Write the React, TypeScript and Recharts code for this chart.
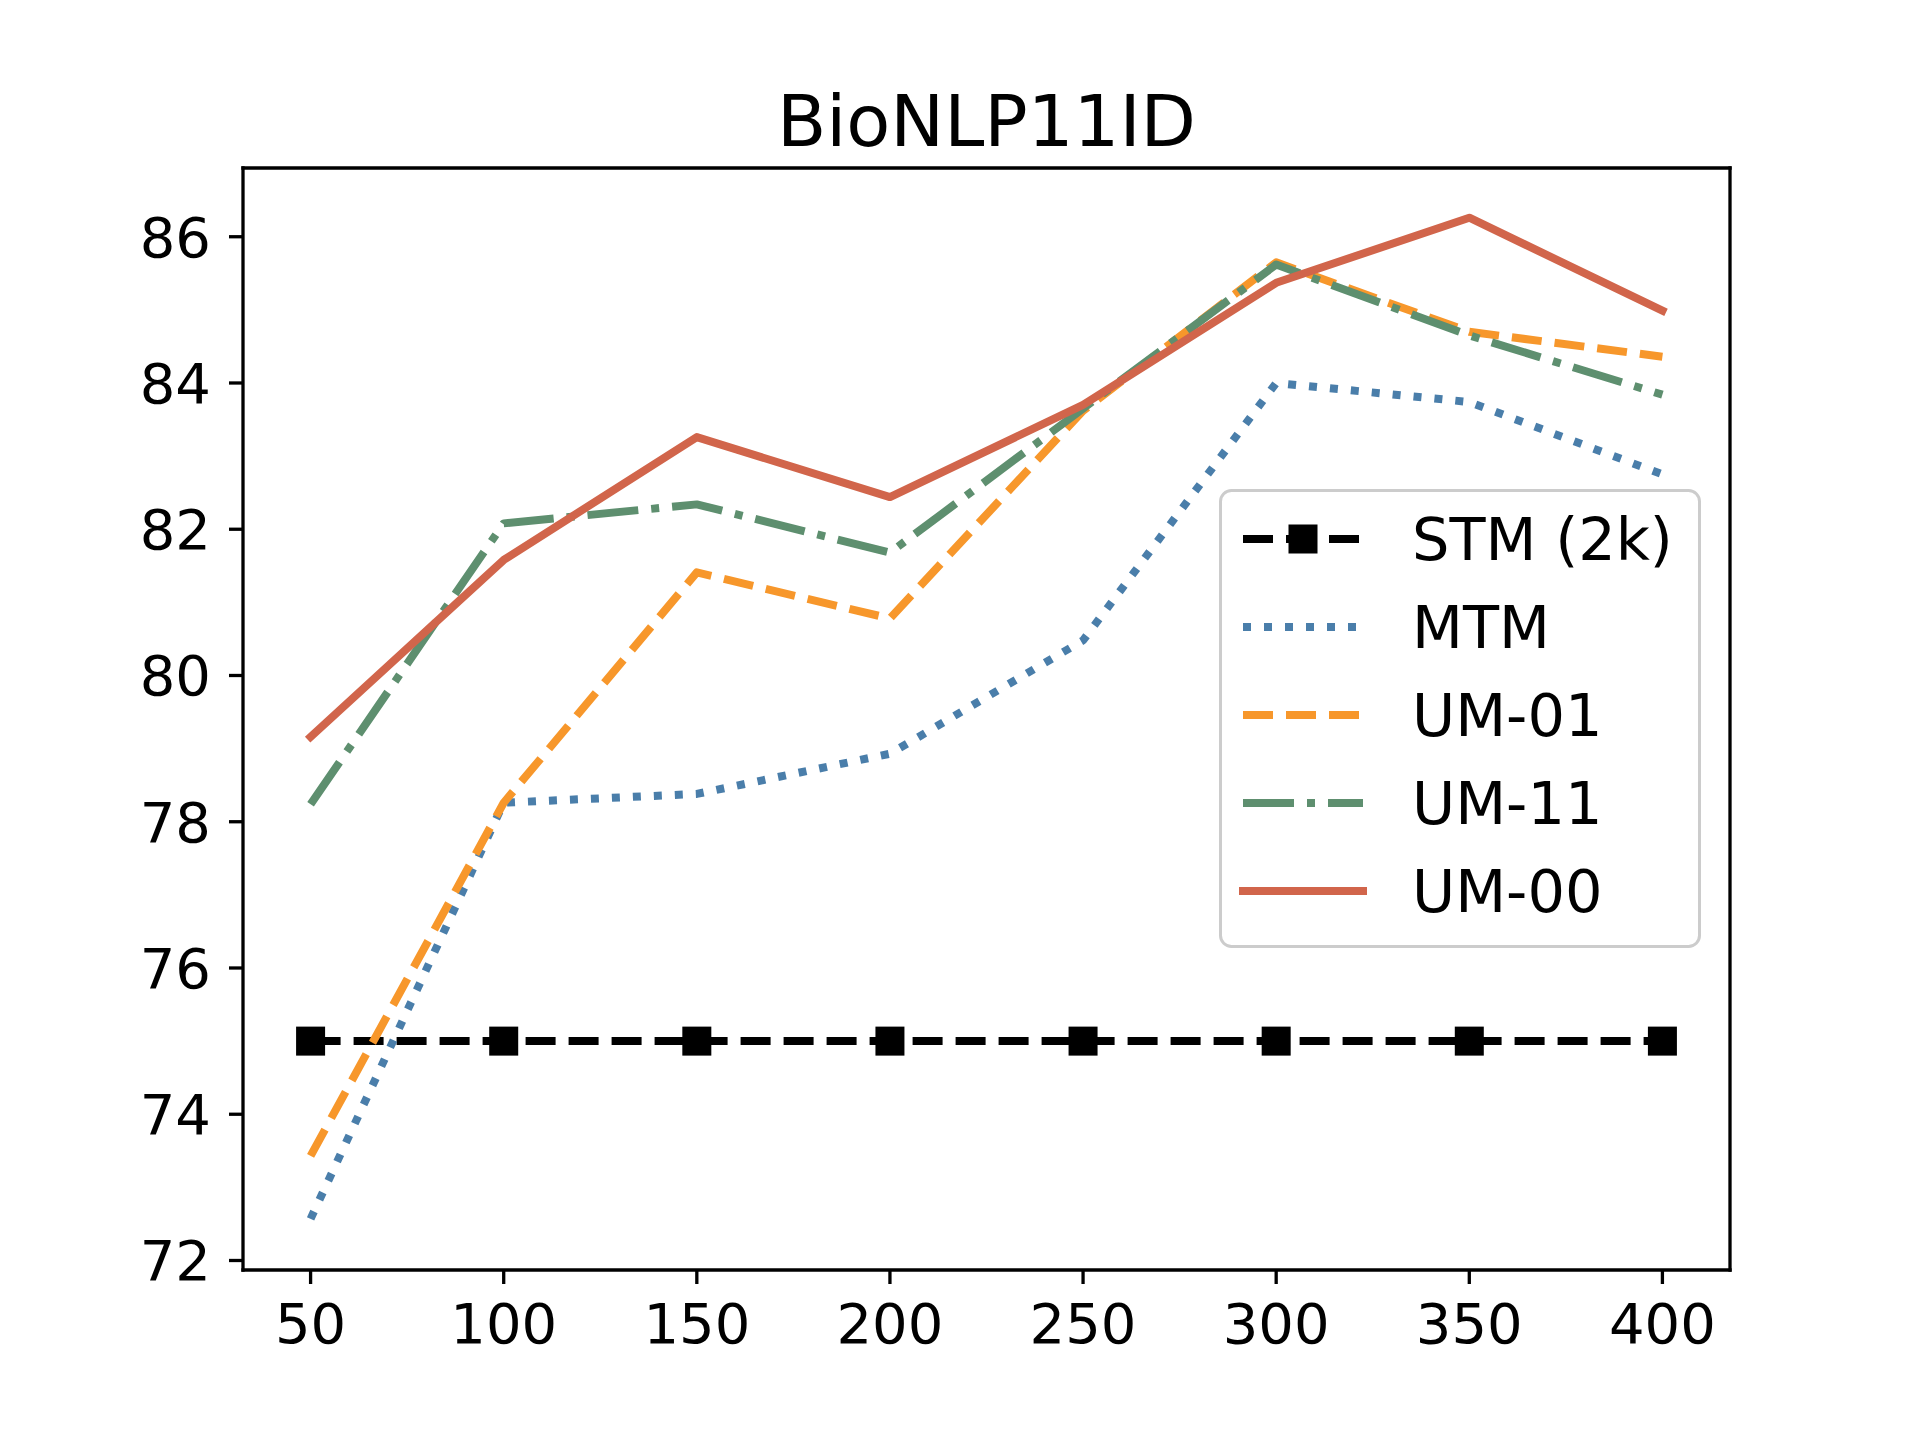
import React from 'react';
import { LineChart, Line, XAxis, YAxis, Legend, ReferenceLine } from 'recharts';

// ---- data ----
const SIZES = [50, 100, 150, 200, 250, 300, 350, 400];
const STM_2K = [75, 75, 75, 75, 75, 75, 75, 75];
const MTM = [72.57, 78.26, 78.38, 78.93, 80.48, 84.0, 83.74, 82.75];
const UM_01 = [73.43, 78.26, 81.41, 80.78, 83.62, 85.65, 84.7, 84.36];
const UM_11 = [78.24, 82.08, 82.34, 81.68, 83.65, 85.62, 84.65, 83.84];
const UM_00 = [79.16, 81.58, 83.26, 82.44, 83.7, 85.37, 86.26, 84.99];
const X_TICKS = [50, 100, 150, 200, 250, 300, 350, 400];
const Y_TICKS = [72, 74, 76, 78, 80, 82, 84, 86];
const X_DOMAIN: [number, number] = [32.5, 417.5];
const Y_DOMAIN: [number, number] = [71.87, 86.94];
const TITLE = 'BioNLP11ID';

const SERIES = [
  { key: 'stm', name: 'STM (2k)', color: '#000000', dash: '30 13', cap: 'butt', marker: true },
  { key: 'mtm', name: 'MTM', color: '#4a7eaa', dash: '8 13', cap: 'butt', marker: false },
  { key: 'um01', name: 'UM-01', color: '#f7972b', dash: '30 13', cap: 'butt', marker: false },
  { key: 'um11', name: 'UM-11', color: '#5e8f6f', dash: '51 13 8 13', cap: 'butt', marker: false },
  { key: 'um00', name: 'UM-00', color: '#d1654b', dash: undefined, cap: 'square', marker: false },
];

const data = SIZES.map((x, i) => ({
  x,
  stm: STM_2K[i],
  mtm: MTM[i],
  um01: UM_01[i],
  um11: UM_11[i],
  um00: UM_00[i],
}));

const FONT = 'DejaVu Sans';
const LW = 8;
const SQ = 29;

const squareDot = (props: any) => {
  const { cx, cy, index } = props;
  if (cx == null || cy == null) return <g key={`sq-${index}`} />;
  return <rect key={`sq-${index}`} x={cx - SQ / 2} y={cy - SQ / 2} width={SQ} height={SQ} fill="#000" />;
};

const renderLegend = (props: any) => {
  const payload = props.payload || [];
  const rows = [50, 138, 226, 314, 402];
  return (
    <svg width={482} height={460} style={{ display: 'block', overflow: 'visible' }}>
      <rect x={1.5} y={1.5} width={479} height={456} rx={11} ry={11} fill="#ffffff" fillOpacity={0.8} stroke="#cccccc" strokeWidth={3} />
      {SERIES.map((s, i) => {
        const entry = payload.find((p: any) => p.dataKey === s.key);
        const color = entry ? entry.color : s.color;
        const label = entry ? entry.value : s.name;
        const cy = rows[i];
        return (
          <g key={s.key}>
            <line x1={24} x2={144} y1={cy} y2={cy} stroke={color} strokeWidth={LW} strokeDasharray={s.dash} strokeLinecap={s.cap as any} />
            {s.marker && <rect x={84 - SQ / 2} y={cy - SQ / 2} width={SQ} height={SQ} fill={color} />}
            <text x={193} y={cy + 21} fontSize={59} fontFamily={FONT} fill="#000">{label}</text>
          </g>
        );
      })}
    </svg>
  );
};

export default function App() {
  const axisLine = { stroke: '#000', strokeWidth: 3.3, strokeLinecap: 'square' as const };
  return (
    <div style={{ position: 'absolute', left: 0, top: 0, width: 1921, height: 1429, background: '#fff', fontFamily: FONT }}>
      <div
        style={{
          position: 'absolute',
          left: 243,
          width: 1487,
          top: 85,
          height: 72,
          lineHeight: '72px',
          fontSize: 72,
          textAlign: 'center',
          fontFamily: FONT,
          color: '#000',
          whiteSpace: 'nowrap',
        }}
      >
        {TITLE}
      </div>
      <LineChart
        width={1921}
        height={1429}
        data={data}
        margin={{ top: 168, right: 191, bottom: 59, left: 123 }}
        style={{ fontFamily: FONT }}
      >
        <XAxis
          dataKey="x"
          type="number"
          domain={X_DOMAIN}
          ticks={X_TICKS}
          allowDataOverflow
          height={100}
          tickSize={14}
          tickMargin={19}
          axisLine={axisLine}
          tickLine={{ stroke: '#000', strokeWidth: 3.3 }}
          tick={{ fill: '#000', fontSize: 56, fontFamily: FONT }}
          interval={0}
        />
        <YAxis
          type="number"
          domain={Y_DOMAIN}
          ticks={Y_TICKS}
          allowDataOverflow
          width={120}
          tickSize={14}
          tickMargin={18}
          axisLine={axisLine}
          tickLine={{ stroke: '#000', strokeWidth: 3.3 }}
          tick={{ fill: '#000', fontSize: 56, fontFamily: FONT }}
          interval={0}
        />
        <ReferenceLine y={Y_DOMAIN[1]} stroke="#000" strokeWidth={3.3} strokeLinecap="square" ifOverflow="visible" />
        <ReferenceLine x={X_DOMAIN[1]} stroke="#000" strokeWidth={3.3} strokeLinecap="square" ifOverflow="visible" />
        <Legend
          layout="horizontal"
          verticalAlign="middle"
          align="center"
          content={renderLegend}
          wrapperStyle={{ position: 'absolute', left: 1219, top: 489, width: 482, height: 460 }}
        />
        {SERIES.map((s) => (
          <Line
            key={s.key}
            dataKey={s.key}
            name={s.name}
            type="linear"
            stroke={s.color}
            strokeWidth={LW}
            strokeDasharray={s.dash}
            strokeLinecap={s.cap as any}
            strokeLinejoin="round"
            dot={s.marker ? squareDot : false}
            activeDot={false}
            isAnimationActive={false}
          />
        ))}
      </LineChart>
    </div>
  );
}
